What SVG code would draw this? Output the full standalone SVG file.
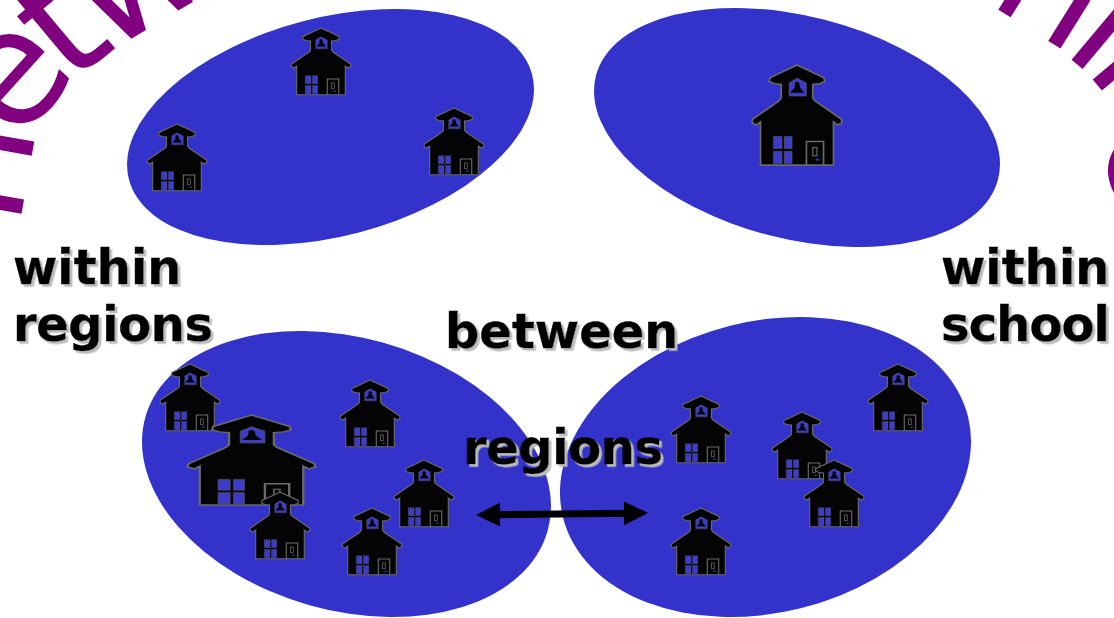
<svg xmlns="http://www.w3.org/2000/svg" width="1114" height="618" viewBox="0 0 1114 618">
<style>
.region{fill:#3333cc}
.wa{font-family:"DejaVu Sans",sans-serif;font-size:160px;fill:#800080}
.lbl{font-family:"DejaVu Sans",sans-serif;font-weight:bold;font-size:48px;fill:#000;stroke:#000;stroke-width:.4;filter:url(#sh)}
.hb{fill:#040404;stroke:#6a6a6a;stroke-width:1.1}
.hw{fill:#3c3cc8;stroke:#555;stroke-width:.4}
</style>
<defs>
<filter id="sh" x="-5%" y="-5%" width="110%" height="120%"><feDropShadow dx="2.600" dy="2.600" stdDeviation="0.3" flood-color="#bcbcbc"/></filter>
<marker id="ah" markerUnits="userSpaceOnUse" markerWidth="24" markerHeight="26" refX="10" refY="12.5" orient="auto-start-reverse"><path d="M0,0.5 L24,12.5 L0,24.5Z" fill="#000"/></marker>
<g id="school">
<path class="hb" d="M0,0 L18,8.500 L18.500,11 L15,12.500 L10.500,13 L10.500,22 L12,24 L29.500,36 L30,38.500 L27,40 L24.300,38 L24.300,66.700 L-24.300,66.700 L-24.300,38 L-27,40 L-30,38.500 L-29.500,36 L-12,24 L-10.500,22 L-10.500,13 L-15,12.500 L-18.500,11 L-18,8.500Z"/>
<path class="hw" d="M-5.300,12 L0,8.700 L6.300,12 L6.300,20.700 L-5.300,20.700Z"/>
<path fill="#040404" d="M0,11 L1.500,12 L2,15 L5,18.500 L-4.500,18.500 L-1.500,15 L-1.500,12Z"/>
<path class="hw" d="M-15.700,47.700h5.700v8h-5.700zM-8.500,47.700h5.200v8h-5.200zM-15.700,57.500h5.700v8.200h-5.700zM-8.500,57.500h5.200v8.200h-5.200z"/>
<path fill="none" stroke="#6a6a6a" stroke-width="1.1" d="M6.300,66.700V51H17.700V66.700"/>
<rect x="10.500" y="55" width="2.800" height="5.500" fill="none" stroke="#5a5a5a" stroke-width=".9"/>
<rect x="12.500" y="62.500" width="2.200" height="1.200" fill="#3c3cc8"/>
</g>
</defs>
<rect width="1114" height="618" fill="#fff"/>
<g id="wordart">
<text class="wa" transform="translate(19,228) rotate(-80)">n</text>
<text class="wa" transform="translate(14.600,145.500) rotate(-48)">e</text>
<text class="wa" transform="translate(70,86) rotate(-40)">t</text>
<text class="wa" transform="translate(106,54) rotate(-31)">w</text>
<text class="wa" transform="translate(986,2) rotate(32)">n</text>
<text class="wa" transform="translate(1060,50) rotate(40)">l</text>
<text class="wa" transform="translate(1083,68) rotate(50)">l</text>
<text class="wa" transform="translate(1091,145) rotate(62)">e</text>
</g>
<g id="region-nw"><ellipse class="region" cx="330.500" cy="127" rx="208.300" ry="109.200" transform="rotate(-14.600 330.500 127)"/></g>
<g id="region-ne"><ellipse class="region" cx="797" cy="127.500" rx="207.600" ry="111.300" transform="rotate(14.400 797 127.500)"/></g>
<g id="region-sw"><ellipse class="region" cx="346.500" cy="474" rx="209" ry="136.300" transform="rotate(15.800 346.500 474)"/></g>
<g id="region-se"><ellipse class="region" cx="765.500" cy="467" rx="208.700" ry="145.600" transform="rotate(-14 765.500 467)"/></g>
<g id="school-1"><use href="#school" x="321" y="28"/></g>
<g id="school-2"><use href="#school" x="177" y="124"/></g>
<g id="school-3"><use href="#school" x="454" y="108"/></g>
<g id="school-4"><use href="#school" transform="translate(797,65) scale(1.5)"/></g>
<g id="school-5"><use href="#school" x="190" y="364"/></g>
<g id="school-6"><use href="#school" transform="translate(251.500,415) scale(2.130,1.350)"/></g>
<g id="school-7"><use href="#school" x="370" y="380"/></g>
<g id="school-8"><use href="#school" x="424" y="460"/></g>
<g id="school-9"><use href="#school" x="372" y="508"/></g>
<g id="school-10"><use href="#school" x="280" y="492"/></g>
<g id="school-11"><use href="#school" x="701" y="396"/></g>
<g id="school-12"><use href="#school" x="802" y="412"/></g>
<g id="school-13"><use href="#school" x="898" y="364"/></g>
<g id="school-14"><use href="#school" x="834" y="460"/></g>
<g id="school-15"><use href="#school" x="701" y="508"/></g>
<g id="connectors"><line x1="490" y1="514.800" x2="634" y2="513.200" stroke="#000" stroke-width="7" marker-start="url(#ah)" marker-end="url(#ah)"/></g>
<g id="labels">
<text class="lbl" x="13" y="284">within</text>
<text class="lbl" x="13" y="341" textLength="200">regions</text>
<text class="lbl" x="445" y="348">between</text>
<text class="lbl" x="463" y="464" textLength="200">regions</text>
<text class="lbl" x="941" y="284">within</text>
<text class="lbl" x="941" y="341" textLength="169">school</text>
</g>
</svg>
